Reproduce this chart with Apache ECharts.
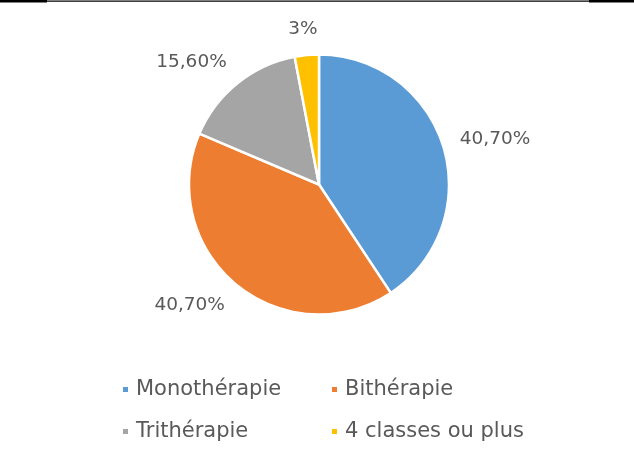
<!DOCTYPE html>
<html>
<head>
<meta charset="utf-8">
<script src="https://cdn.jsdelivr.net/npm/echarts@6/dist/echarts.min.js"></script>
<style>
  html, body { margin: 0; padding: 0; background: #fff; }
  #chart { width: 634px; height: 450px; }
</style>
</head>
<body>
<div id="chart"></div>
<script>
// data
const categories = ["Monothérapie", "Bithérapie", "Trithérapie", "4 classes ou plus"];
const shares = [0.407, 0.407, 0.156, 0.03];
const labelTexts = ["40,70%", "40,70%", "15,60%", "3%"];
const colors = ["#5B9BD5", "#ED7D31", "#A5A5A5", "#FFC000"];

const CX = 319;
const CY = 184.5;
const R = 130;
const GAP = 17;

const total = shares.reduce((a, b) => a + b, 0);

// Excel-like "outside end" label position, worked out from the slice's mid angle
function placeLabel(params) {
  let before = 0;
  for (let i = 0; i < params.dataIndex; i++) before += shares[i];
  const mid = (before + shares[params.dataIndex] / 2) / total * Math.PI * 2;
  const dx = Math.sin(mid);
  const dy = -Math.cos(mid);
  const w = params.labelRect.width;
  const h = params.labelRect.height;
  const fx = Math.max(-1, Math.min(1, dx * 1.6));
  return {
    x: CX + (R + GAP) * dx + fx * w / 2,
    y: CY + (R + GAP) * dy + dy * h / 2,
    align: "center",
    verticalAlign: "middle"
  };
}

const chart = echarts.init(document.getElementById("chart"));
chart.setOption({
  animation: false,
  color: colors,
  graphic: [
    { type: "rect", shape: { x: 0, y: 0, width: 47, height: 2.5 }, style: { fill: "#000" } },
    { type: "rect", shape: { x: 47, y: 0.5, width: 542, height: 1.2 }, style: { fill: "#000" } },
    { type: "rect", shape: { x: 589, y: 0, width: 45, height: 2.5 }, style: { fill: "#000" } }
  ],
  legend: {
    left: 121,
    top: 370.5,
    width: 420,
    padding: 0,
    orient: "horizontal",
    icon: "rect",
    itemWidth: 7,
    itemHeight: 7,
    itemGap: 4,
    data: categories,
    textStyle: {
      fontFamily: "DejaVu Sans",
      fontSize: 21,
      color: "#595959",
      width: 190,
      lineHeight: 38,
      padding: [0, 0, 0, 2]
    }
  },
  series: [
    {
      type: "pie",
      center: [CX, CY],
      radius: R,
      startAngle: 90,
      clockwise: true,
      silent: true,
      itemStyle: { borderColor: "#fff", borderWidth: 2.5 },
      label: {
        show: true,
        position: "outside",
        fontFamily: "DejaVu Sans",
        fontSize: 18.5,
        color: "#595959",
        formatter: (p) => labelTexts[p.dataIndex]
      },
      labelLine: { show: false },
      labelLayout: placeLabel,
      data: categories.map((name, i) => ({ name: name, value: shares[i] }))
    }
  ]
});
</script>
</body>
</html>
